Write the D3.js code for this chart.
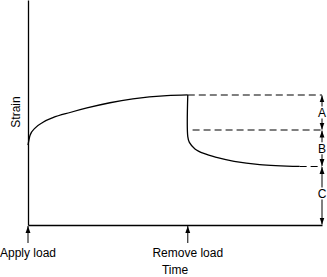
<!DOCTYPE html>
<html>
  <head>
    <meta charset="UTF-8" />
    <script src="https://cdnjs.cloudflare.com/ajax/libs/d3/7.8.5/d3.min.js"></script>
    <style>
      body { margin: 0; background: #fff; }
      text { font-family: "Liberation Sans", Arial, sans-serif; font-size: 12px; fill: #000; }
      .curve { fill: none; stroke: #000; stroke-width: 1.3; }
      .dash { stroke: #000; stroke-width: 1.1; stroke-dasharray: 7,4; }
      .arr { stroke: #000; stroke-width: 1; }
      .domain { stroke: #000; stroke-width: 1.3; }
    </style>
  </head>
  <body>
    <svg id="viz" width="327" height="277"></svg>
    <script>
      // time in arbitrary units, load applied at 0 and removed at 10
      const creepTime = [0, 0.13, 0.44, 0.94, 1.56, 2.63, 3.69, 5.13, 6.56, 8.69, 10];
      const creepStrain = [61.5, 69, 74.5, 79, 82.5, 86.5, 90, 94, 97, 99.5, 100];
      const recoveryTime = [10, 10, 10.1, 10.45, 11, 11.8, 12.9, 14.5, 17];
      const recoveryStrain = [100, 68, 63.5, 58.5, 55, 52, 49, 46.5, 45];
      const levels = [100, 73, 45, 0];            // tops of A, B, C
      const levelLabels = ["A", "B", "C"];
      const dashStart = [10, 10.3, 17];
      const events = [0, 10];
      const eventLabels = ["Apply load", "Remove load"];
      const tMax = 18.4, sMax = 173;

      const svg = d3.select("#viz");
      const x = d3.scaleLinear().domain([0, tMax]).range([28, 322]);
      const y = d3.scaleLinear().domain([0, sMax]).range([225, 0]);

      // arrowhead
      svg.append("defs").append("marker")
        .attr("id", "head")
        .attr("viewBox", "0 0 10 10")
        .attr("refX", 10).attr("refY", 5)
        .attr("markerWidth", 7).attr("markerHeight", 7)
        .attr("markerUnits", "userSpaceOnUse")
        .attr("orient", "auto")
        .append("path").attr("d", "M0,1.5L10,5L0,8.5Z").attr("fill", "#000");

      svg.append("g").call(d3.axisLeft(y).ticks(0).tickSizeOuter(0))
        .attr("transform", `translate(${x(0)},0)`);
      svg.append("g").call(d3.axisBottom(x).ticks(0).tickSizeOuter(0))
        .attr("transform", `translate(0,${y(0)})`);

      const line = d3.line().x(d => x(d[0])).y(d => y(d[1]));

      svg.append("path").attr("class", "curve")
        .attr("d", line.curve(d3.curveMonotoneX)(d3.zip(creepTime, creepStrain)));
      svg.append("path").attr("class", "curve")
        .attr("d", line.curve(d3.curveCatmullRom.alpha(0.5))(d3.zip(recoveryTime, recoveryStrain)));

      // dashed reference levels
      svg.selectAll("line.dash").data(levels.slice(0, 3)).join("line")
        .attr("class", "dash")
        .attr("x1", (d, i) => x(dashStart[i])).attr("x2", x(tMax))
        .attr("y1", d => y(d)).attr("y2", d => y(d));

      // A, B, C dimension arrows
      const gap = 6;
      levelLabels.forEach((lab, i) => {
        const top = y(levels[i]), bot = y(levels[i + 1]);
        const mid = lab === "C" ? y(levels[i]) + 27 : (top + bot) / 2;
        svg.append("line").attr("class", "arr")
          .attr("x1", x(tMax)).attr("x2", x(tMax))
          .attr("y1", mid - gap).attr("y2", top + 0.5)
          .attr("marker-end", "url(#head)");
        svg.append("line").attr("class", "arr")
          .attr("x1", x(tMax)).attr("x2", x(tMax))
          .attr("y1", mid + gap).attr("y2", bot - 0.5)
          .attr("marker-end", "url(#head)");
        svg.append("text").attr("x", x(tMax)).attr("y", mid + 4.3)
          .attr("text-anchor", "middle").text(lab);
      });

      // load event arrows and labels
      events.forEach((t, i) => {
        svg.append("line").attr("class", "arr")
          .attr("x1", x(t)).attr("x2", x(t))
          .attr("y1", 243).attr("y2", y(0) + 1)
          .attr("marker-end", "url(#head)");
        svg.append("text").attr("x", x(t)).attr("y", 257)
          .attr("text-anchor", "middle").text(eventLabels[i]);
      });

      svg.append("text").attr("x", 175).attr("y", 274)
        .attr("text-anchor", "middle").text("Time");
      svg.append("text").attr("transform", "translate(20,112) rotate(-90)")
        .attr("text-anchor", "middle").text("Strain");
    </script>
  </body>
</html>
